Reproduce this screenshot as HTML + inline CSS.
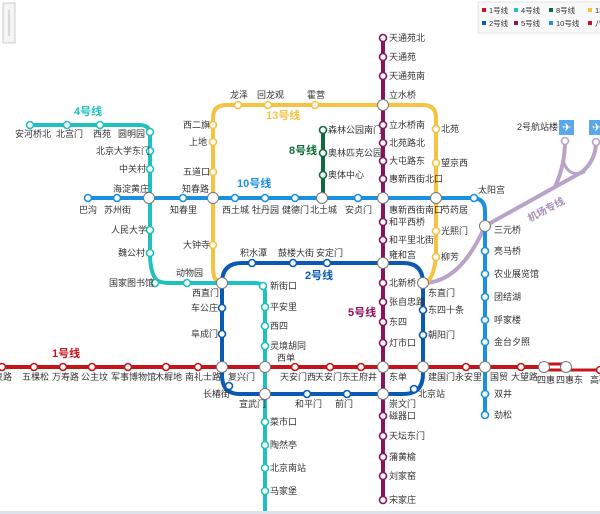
<!DOCTYPE html>
<html><head><meta charset="utf-8"><style>
body{margin:0;background:#fff;}
svg{display:block;font-family:"Liberation Sans","Noto Sans CJK SC",sans-serif;}
text{font-size:9px;fill:#333;}
.s{fill:#fff;stroke-width:1.6;}
.x{fill:#fff;stroke:#777;stroke-width:1;}
.ln{font-size:11px;font-weight:bold;}
</style></head><body>
<svg width="600" height="514" viewBox="0 0 600 514">
<!-- zoom control -->
<rect x="3" y="3" width="12" height="40" fill="#f4f4f4" stroke="#ccc"/>
<line x1="9" y1="10" x2="9" y2="36" stroke="#bbb"/>
<!-- legend -->
<rect x="478" y="2" width="124" height="31" fill="#f8f8f8" stroke="#e4e4e4"/>
<g style="font-size:7.5px">
<rect x="482" y="8" width="4" height="4" fill="#c4151c"/><text x="489" y="13" style="font-size:7.5px">1号线</text>
<rect x="514" y="8" width="4" height="4" fill="#1ec0c0"/><text x="521" y="13" style="font-size:7.5px">4号线</text>
<rect x="549" y="8" width="4" height="4" fill="#0f6b3d"/><text x="556" y="13" style="font-size:7.5px">8号线</text>
<rect x="588" y="8" width="4" height="4" fill="#f5c242"/><text x="595" y="13" style="font-size:7.5px">13</text>
<rect x="482" y="21" width="4" height="4" fill="#0a5ab4"/><text x="489" y="26" style="font-size:7.5px">2号线</text>
<rect x="514" y="21" width="4" height="4" fill="#8a1360"/><text x="521" y="26" style="font-size:7.5px">5号线</text>
<rect x="549" y="21" width="4" height="4" fill="#1a90e0"/><text x="556" y="26" style="font-size:7.5px">10号线</text>
<rect x="588" y="21" width="4" height="4" fill="#c4151c"/><text x="595" y="26" style="font-size:7.5px">八</text>
</g>
<g fill="none" stroke-linecap="round" stroke-linejoin="round">
<!-- airport -->
<path d="M423 283 Q460 283 485 226 L582 172 Q596 160 596 142" stroke="#b9a3c8" stroke-width="4"/>
<path d="M555 187 Q565 165 565 141" stroke="#b9a3c8" stroke-width="4"/>
<path d="M563 160 Q568 178 584 172" stroke="#b9a3c8" stroke-width="3"/>
<!-- line 13 -->
<path d="M213 198 L213 118 Q213 105 226 105 L423 105 Q436 105 436 118 L436 257 Q433 283 423 283" stroke="#f5c242" stroke-width="4"/>
<path d="M213 198 L213 270 Q214 283 222 283" stroke="#f5c242" stroke-width="4"/>
<!-- line 4 -->
<path d="M30 125 L140 125 Q150 125 150 135 L150 253 Q150 270 155 278 Q158 283 170 283 L255 283 Q265 283 265 293 L265 514" stroke="#1ec0c0" stroke-width="4"/>
<!-- line 8 -->
<path d="M323 130 L323 198" stroke="#0f6b3d" stroke-width="4"/>
<!-- line 10 -->
<path d="M88 198 L472 198 Q485 198 485 211 L485 415" stroke="#1a90e0" stroke-width="4"/>
<!-- line 2 -->
<path d="M222 283 Q222 263 242 263 L403 263 Q423 263 423 283 L423 374 Q423 394 403 394 L240 394 Q222 394 222 375 Z" stroke="#0a5ab4" stroke-width="4"/>
<!-- line 5 -->
<path d="M383 38 L383 500" stroke="#8a1360" stroke-width="4"/>
<!-- line 1 -->
<path d="M0 367 L544 367" stroke="#c4151c" stroke-width="4"/>
<path d="M544 364 L566 364 M544 370 L600 370" stroke="#c4151c" stroke-width="3"/>
</g>
<!-- airport icons -->
<rect x="559" y="120" width="15" height="15" fill="#5aa8e8"/><text x="562" y="131" style="fill:#fff;font-size:11px">✈</text>
<rect x="589" y="120" width="15" height="15" fill="#5aa8e8"/><text x="592" y="131" style="fill:#fff;font-size:11px">✈</text>
<circle class="s" cx="565" cy="141" r="3.5" stroke="#b9a3c8"/><circle class="s" cx="596" cy="142" r="3.5" stroke="#b9a3c8"/>
<text x="517" y="130">2号航站楼</text>
<text x="530" y="222" transform="rotate(-28 530 222)" style="fill:#a58fb8;font-size:10px;font-weight:bold">机场专线</text>
<!-- line labels -->
<text class="ln" x="74" y="115" style="fill:#1ec0c0">4号线</text>
<text class="ln" x="266" y="119" style="fill:#f5c242">13号线</text>
<text class="ln" x="289" y="154" style="fill:#0f6b3d">8号线</text>
<text class="ln" x="237" y="187" style="fill:#1a90e0">10号线</text>
<text class="ln" x="305" y="279" style="fill:#0a5ab4">2号线</text>
<text class="ln" x="348" y="316" style="fill:#8a1360">5号线</text>
<text class="ln" x="52" y="357" style="fill:#c4151c">1号线</text>
<!-- line 4 stations -->
<g stroke="#1ec0c0">
<circle class="s" cx="30" cy="125" r="3.5"/><circle class="s" cx="67" cy="125" r="3.5"/><circle class="s" cx="100" cy="125" r="3.5"/>
<circle class="s" cx="150" cy="132" r="3.5"/><circle class="s" cx="150" cy="151" r="3.5"/><circle class="s" cx="150" cy="169" r="3.5"/>
<circle class="s" cx="150" cy="230" r="3.5"/><circle class="s" cx="150" cy="253" r="3.5"/><circle class="s" cx="155" cy="283" r="3.5"/>
<circle class="s" cx="187" cy="283" r="3.5"/><circle class="s" cx="263" cy="286" r="3.5"/><circle class="s" cx="265" cy="307" r="3.5"/>
<circle class="s" cx="265" cy="326" r="3.5"/><circle class="s" cx="265" cy="346" r="3.5"/><circle class="s" cx="265" cy="422" r="3.5"/>
<circle class="s" cx="265" cy="445" r="3.5"/><circle class="s" cx="265" cy="468" r="3.5"/><circle class="s" cx="265" cy="491" r="3.5"/>
</g>
<text x="15" y="137">安河桥北</text><text x="56" y="137">北宫门</text><text x="93" y="137">西苑</text><text x="118" y="137">圆明园</text>
<text x="96" y="154">北京大学东门</text><text x="119" y="172">中关村</text><text x="113" y="192">海淀黄庄</text>
<text x="111" y="233">人民大学</text><text x="118" y="256">魏公村</text><text x="109" y="286">国家图书馆</text><text x="176" y="276">动物园</text>
<text x="270" y="289">新街口</text><text x="270" y="310">平安里</text><text x="270" y="329">西四</text><text x="270" y="349">灵境胡同</text>
<text x="270" y="425">菜市口</text><text x="270" y="448">陶然亭</text><text x="270" y="471">北京南站</text><text x="270" y="494">马家堡</text>
<!-- line 10 stations -->
<g stroke="#1a90e0">
<circle class="s" cx="88" cy="198" r="3.5"/><circle class="s" cx="117" cy="198" r="3.5"/><circle class="s" cx="183" cy="198" r="3.5"/>
<circle class="s" cx="235" cy="198" r="3.5"/><circle class="s" cx="265" cy="198" r="3.5"/><circle class="s" cx="295" cy="198" r="3.5"/>
<circle class="s" cx="358" cy="198" r="3.5"/><circle class="s" cx="474" cy="198" r="3.5"/><circle class="s" cx="485" cy="251" r="3.5"/>
<circle class="s" cx="485" cy="274" r="3.5"/><circle class="s" cx="485" cy="297" r="3.5"/><circle class="s" cx="485" cy="320" r="3.5"/>
<circle class="s" cx="485" cy="342" r="3.5"/><circle class="s" cx="485" cy="394" r="3.5"/><circle class="s" cx="485" cy="415" r="3.5"/>
</g>
<text x="79" y="213">巴沟</text><text x="104" y="213">苏州街</text><text x="170" y="213">知春里</text><text x="182" y="192">知春路</text>
<text x="222" y="213">西土城</text><text x="252" y="213">牡丹园</text><text x="282" y="213">健德门</text><text x="310" y="213">北土城</text>
<text x="345" y="213">安贞门</text><text x="478" y="193">太阳宫</text><text x="494" y="233">三元桥</text><text x="494" y="254">亮马桥</text>
<text x="494" y="277">农业展览馆</text><text x="494" y="300">团结湖</text><text x="494" y="323">呼家楼</text><text x="494" y="345">金台夕照</text>
<text x="494" y="397">双井</text><text x="494" y="418">劲松</text><text x="490" y="380">国贸</text>
<!-- line 13 stations -->
<g stroke="#f5c242">
<circle class="s" cx="213" cy="125" r="3.5"/><circle class="s" cx="213" cy="142" r="3.5"/><circle class="s" cx="213" cy="172" r="3.5"/>
<circle class="s" cx="238" cy="105" r="3.5"/><circle class="s" cx="268" cy="105" r="3.5"/><circle class="s" cx="315" cy="105" r="3.5"/>
<circle class="s" cx="436" cy="129" r="3.5"/><circle class="s" cx="436" cy="163" r="3.5"/><circle class="s" cx="436" cy="231" r="3.5"/>
<circle class="s" cx="436" cy="257" r="3.5"/><circle class="s" cx="213" cy="245" r="3.5"/>
</g>
<text x="183" y="128">西二旗</text><text x="189" y="145">上地</text><text x="183" y="175">五道口</text><text x="183" y="248">大钟寺</text>
<text x="230" y="98">龙泽</text><text x="257" y="98">回龙观</text><text x="307" y="98">霍营</text>
<text x="441" y="132">北苑</text><text x="441" y="166">望京西</text><text x="441" y="213">芍药居</text><text x="441" y="234">光熙门</text><text x="441" y="260">柳芳</text>
<!-- line 8 -->
<g stroke="#0f6b3d"><circle class="s" cx="323" cy="130" r="3.5"/><circle class="s" cx="323" cy="153" r="3.5"/><circle class="s" cx="323" cy="175" r="3.5"/></g>
<text x="328" y="133">森林公园南门</text><text x="328" y="156">奥林匹克公园</text><text x="328" y="178">奥体中心</text>
<!-- line 5 -->
<g stroke="#8a1360">
<circle class="s" cx="383" cy="38" r="3.5"/><circle class="s" cx="383" cy="57" r="3.5"/><circle class="s" cx="383" cy="76" r="3.5"/>
<circle class="s" cx="383" cy="125" r="3.5"/><circle class="s" cx="383" cy="143" r="3.5"/><circle class="s" cx="383" cy="161" r="3.5"/>
<circle class="s" cx="383" cy="179" r="3.5"/><circle class="s" cx="383" cy="222" r="3.5"/><circle class="s" cx="383" cy="240" r="3.5"/>
<circle class="s" cx="383" cy="302" r="3.5"/><circle class="s" cx="383" cy="322" r="3.5"/><circle class="s" cx="383" cy="343" r="3.5"/>
<circle class="s" cx="383" cy="416" r="3.5"/><circle class="s" cx="383" cy="436" r="3.5"/><circle class="s" cx="383" cy="457" r="3.5"/>
<circle class="s" cx="383" cy="476" r="3.5"/><circle class="s" cx="383" cy="500" r="3.5"/><circle class="s" cx="383" cy="283" r="3.5"/>
</g>
<text x="389" y="41">天通苑北</text><text x="389" y="60">天通苑</text><text x="389" y="79">天通苑南</text><text x="389" y="98">立水桥</text>
<text x="389" y="128">立水桥南</text><text x="389" y="146">北苑路北</text><text x="389" y="164">大屯路东</text><text x="389" y="182">惠新西街北口</text>
<text x="389" y="213">惠新西街南口</text><text x="389" y="225">和平西桥</text><text x="389" y="243">和平里北街</text><text x="389" y="258">雍和宫</text>
<text x="389" y="286">北新桥</text><text x="389" y="305">张自忠路</text><text x="389" y="325">东四</text><text x="389" y="346">灯市口</text>
<text x="389" y="380">东单</text><text x="389" y="407">崇文门</text><text x="389" y="419">磁器口</text><text x="389" y="439">天坛东门</text>
<text x="389" y="460">蒲黄榆</text><text x="389" y="479">刘家窑</text><text x="389" y="503">宋家庄</text>
<!-- line 2 -->
<g stroke="#0a5ab4">
<circle class="s" cx="252" cy="263" r="3.5"/><circle class="s" cx="293" cy="263" r="3.5"/><circle class="s" cx="327" cy="263" r="3.5"/>
<circle class="s" cx="423" cy="310" r="3.5"/><circle class="s" cx="423" cy="335" r="3.5"/><circle class="s" cx="414" cy="389" r="3.5"/>
<circle class="s" cx="347" cy="394" r="3.5"/><circle class="s" cx="307" cy="394" r="3.5"/><circle class="s" cx="229" cy="386" r="3.5"/>
<circle class="s" cx="222" cy="334" r="3.5"/><circle class="s" cx="222" cy="308" r="3.5"/>
</g>
<text x="240" y="256">积水潭</text><text x="278" y="256">鼓楼大街</text><text x="316" y="256">安定门</text>
<text x="428" y="296">东直门</text><text x="428" y="313">东四十条</text><text x="428" y="338">朝阳门</text><text x="418" y="397">北京站</text>
<text x="335" y="407">前门</text><text x="295" y="407">和平门</text><text x="239" y="407">宣武门</text><text x="203" y="397">长椿街</text>
<text x="191" y="337">阜成门</text><text x="191" y="311">车公庄</text><text x="192" y="296">西直门</text><text x="277" y="361">西单</text>
<!-- line 1 -->
<g stroke="#c4151c">
<circle class="s" cx="2" cy="367" r="3.5"/><circle class="s" cx="34" cy="367" r="3.5"/><circle class="s" cx="63" cy="367" r="3.5"/>
<circle class="s" cx="92" cy="367" r="3.5"/><circle class="s" cx="128" cy="367" r="3.5"/><circle class="s" cx="166" cy="367" r="3.5"/>
<circle class="s" cx="198" cy="367" r="3.5"/><circle class="s" cx="295" cy="367" r="3.5"/><circle class="s" cx="330" cy="367" r="3.5"/>
<circle class="s" cx="361" cy="367" r="3.5"/><circle class="s" cx="466" cy="367" r="3.5"/><circle class="s" cx="521" cy="367" r="3.5"/>
<circle class="s" cx="600" cy="370" r="3.5"/>
</g>
<text x="-6" y="380">泉路</text><text x="22" y="380">五棵松</text><text x="52" y="380">万寿路</text><text x="81" y="380">公主坟</text>
<text x="111" y="380">军事博物馆</text><text x="155" y="380">木樨地</text><text x="185" y="380">南礼士路</text><text x="228" y="380">复兴门</text>
<text x="280" y="380">天安门西</text><text x="315" y="380">天安门东</text><text x="350" y="380">王府井</text>
<text x="428" y="380">建国门</text><text x="455" y="380">永安里</text><text x="511" y="380">大望路</text>
<text x="537" y="383">四惠</text><text x="556" y="383">四惠东</text><text x="590" y="383">高碑</text>
<!-- interchanges -->
<g>
<circle class="x" cx="149" cy="198" r="5.5"/><circle class="x" cx="213" cy="198" r="5.5"/><circle class="x" cx="322" cy="198" r="5.5"/>
<circle class="x" cx="383" cy="198" r="5.5"/><circle class="x" cx="436" cy="198" r="5.5"/><circle class="x" cx="383" cy="105" r="5.5"/>
<circle class="x" cx="485" cy="226" r="5.5"/><circle class="x" cx="222" cy="283" r="5.5"/><circle class="x" cx="383" cy="263" r="5.5"/>
<circle class="x" cx="423" cy="283" r="5.5"/><circle class="x" cx="222" cy="367" r="5.5"/><circle class="x" cx="265" cy="367" r="5.5"/>
<circle class="x" cx="383" cy="367" r="5.5"/><circle class="x" cx="423" cy="367" r="5.5"/><circle class="x" cx="485" cy="367" r="5.5"/>
<circle class="x" cx="544" cy="367" r="5.5"/><circle class="x" cx="566" cy="367" r="5.5"/><circle class="x" cx="265" cy="394" r="5.5"/>
<circle class="x" cx="383" cy="394" r="5.5"/>
</g>
<rect x="0" y="511" width="600" height="3" fill="#dde3e8"/>
</svg>
</body></html>
